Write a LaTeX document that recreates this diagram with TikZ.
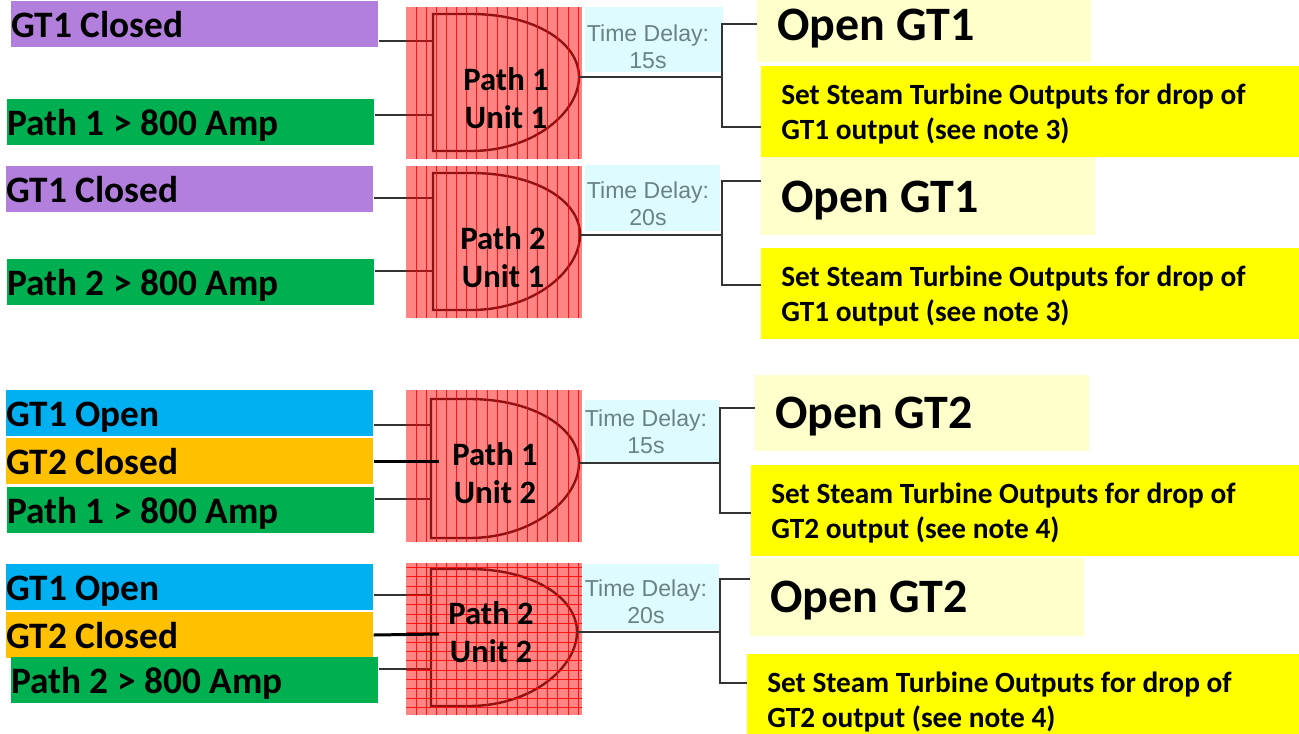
\documentclass[tikz,border=0pt]{standalone}
\usepackage{fontspec}
\setmainfont{Carlito}
\newfontfamily\delayfont{Liberation Sans}
\usetikzlibrary{positioning}
\definecolor{gatepurple}{RGB}{178,128,220}
\definecolor{gategreen}{RGB}{0,176,80}
\definecolor{gateblue}{RGB}{0,176,240}
\definecolor{gateorange}{RGB}{255,192,0}
\definecolor{paleyellow}{RGB}{255,255,204}
\definecolor{setyellow}{RGB}{255,255,0}
\definecolor{boxred}{RGB}{255,0,0}
\definecolor{delaycyan}{RGB}{222,252,255}
\definecolor{delaytext}{RGB}{105,130,130}
\tikzset{
  inputbox/.style={anchor=west, minimum height=34.5pt, text width=275.25pt, inner xsep=0pt, inner ysep=0pt, align=flush left,
    text height=19.5pt, text depth=0pt, font=\fontsize{28}{28}\bfseries\selectfont},
  openbox/.style 2 args={anchor=north west, fill=paleyellow, minimum height=#1*0.75pt, text width=220.5pt, inner xsep=15pt, inner ysep=0pt,
    align=flush left, text height=30pt, text depth=#2pt, font=\fontsize{36}{36}\bfseries\selectfont},
  setbox/.style={anchor=north west, fill=setyellow, minimum height=68.25pt, text width=#1*0.75pt, inner xsep=15pt, inner ysep=0pt,
    align=flush left, execute at begin node={\rule{0pt}{19pt}}, font=\fontsize{22}{26.5}\bfseries\selectfont},
  redbox/.style={anchor=north west, fill=boxred, fill opacity=0.48, minimum width=132pt, minimum height=114pt, inner sep=0pt},
  vstripes/.style={path picture={
    \foreach \s in {1,...,17}
      \draw[boxred, line width=0.6pt, draw opacity=0.85] ([xshift=\s*7.6pt-0.3pt]path picture bounding box.south west) -- ([xshift=\s*7.6pt-0.3pt]path picture bounding box.north west);}},
  gridstripes/.style={path picture={
    \foreach \s in {1,...,17}
      \draw[boxred, line width=0.6pt, draw opacity=0.85] ([xshift=\s*7.6pt-0.3pt]path picture bounding box.south west) -- ([xshift=\s*7.6pt-0.3pt]path picture bounding box.north west);
    \foreach \s in {1,...,16}
      \draw[boxred, line width=0.6pt, draw opacity=0.85] ([yshift=\s*7pt-1pt]path picture bounding box.south west) -- ([yshift=\s*7pt-1pt]path picture bounding box.south east);}},
  pathtext/.style={align=flush center, font=\fontsize{24.5}{29}\bfseries\selectfont},
  delaybox/.style={anchor=north west, fill=delaycyan, minimum width=#1*0.75pt, inner sep=0pt},
  delaylabel/.style={align=flush center, text=delaytext, inner sep=0pt, font=\delayfont\fontsize{17.3}{20.5}\selectfont},
  wire/.style={line width=1.6pt, black!80},
  gateline/.style={line width=1.8pt, black!85},
}
\begin{document}
\begin{tikzpicture}[x=0.75pt, y=-0.75pt]
  \useasboundingbox (0,0) rectangle (1299,733);
  \clip (0,0) rectangle (1299,733);
  % Input boxes
  \node[inputbox, fill=gatepurple] (closedA) at (11,24) {GT1 Closed};
  \node[inputbox, fill=gategreen] (ampA) at (7,122) {Path 1 > 800 Amp};
  \node[inputbox, fill=gatepurple] (closedB) at (6,189) {GT1 Closed};
  \node[inputbox, fill=gategreen] (ampB) at (7,282) {Path 2 > 800 Amp};
  \node[inputbox, fill=gateblue] (openC) at (6,413) {GT1 Open};
  \node[inputbox, fill=gateorange] (closedC) at (6,461) {GT2 Closed};
  \node[inputbox, fill=gategreen] (ampC) at (7,510) {Path 1 > 800 Amp};
  \node[inputbox, fill=gateblue] (openD) at (6,587) {GT1 Open};
  \node[inputbox, fill=gateorange] (closedD) at (6,635) {GT2 Closed};
  \node[inputbox, fill=gategreen] (ampD) at (11,680) {Path 2 > 800 Amp};
  % Gate corners and tips
  \coordinate (gateAa) at (433,41);
  \coordinate (gateAb) at (433,115);
  \coordinate (tipA) at (579,77);
  \coordinate (gateBa) at (433,198);
  \coordinate (gateBb) at (433,271);
  \coordinate (tipB) at (580,235);
  \coordinate (gateCa) at (431,425);
  \coordinate (gateCb) at (431,499);
  \coordinate (tipC) at (579,463);
  \coordinate (gateDa) at (431,595);
  \coordinate (gateDb) at (431,669);
  \coordinate (tipD) at (577,632);
  % Gate outlines, under the red
  \foreach \g/\t/\b/\tx/\ty/\lx in {A/14/151/579/77/433, B/173/310/580/235/433, C/399/538/579/463/431, D/569/706/577/632/431}
    \draw[gateline] (\lx,\t) -- (\lx+38,\t) .. controls (\tx-45,\t) and (\tx,\ty-35) .. (\tx,\ty)
      .. controls (\tx,\ty+35) and (\tx-45,\b) .. (\lx+38,\b) -- (\lx,\b) -- cycle;
  % Inputs
  \draw[wire] (closedA.east |- gateAa) -- (gateAa);
  \draw[wire] (ampA.east |- gateAb) -- (gateAb);
  \draw[wire] (closedB.east |- gateBa) -- (gateBa);
  \draw[wire] (ampB.east |- gateBb) -- (gateBb);
  \draw[wire] (openC.east |- gateCa) -- (gateCa);
  \draw[wire] (ampC.east |- gateCb) -- (gateCb);
  \draw[wire] (openD.east |- gateDa) -- (gateDa);
  \draw[wire] (ampD.east |- gateDb) -- (gateDb);
  % Red covers
  \node[redbox, vstripes] (coverA) at (406,7) {};
  \node[redbox, vstripes] (coverB) at (406,166) {};
  \node[redbox, vstripes] (coverC) at (406,390) {};
  \node[redbox, gridstripes] (coverD) at (406,563) {};
  \draw[line width=2.25pt] (closedC.east) -- (439,461);
  \draw[line width=2.25pt] (closedD.east) -- (439,634);
  \node[pathtext] (pathA) at (506,98) {Path 1\\Unit 1};
  \node[pathtext] (pathB) at (503,257) {Path 2\\Unit 1};
  \node[pathtext] (pathC) at (495,473) {Path 1\\Unit 2};
  \node[pathtext] (pathD) at (491,632) {Path 2\\Unit 2};
  % Time delays
  \node[delaybox=138, minimum height=48.75pt] (delayA) at (585,7) {};
  \node[delaybox=135, minimum height=49.5pt] (delayB) at (585,165) {};
  \node[delaybox=135, minimum height=47.25pt] (delayC) at (585,400) {};
  \node[delaybox=136, minimum height=49.5pt] (delayD) at (583,564) {};
  \node[delaylabel] (labelA) at (648,47) {Time Delay:\\15s};
  \node[delaylabel] (labelB) at (648,204) {Time Delay:\\20s};
  \node[delaylabel] (labelC) at (646,432) {Time Delay:\\15s};
  \node[delaylabel] (labelD) at (646,602) {Time Delay:\\20s};
  % Outputs
  \node[openbox={62}{16.5}] (outA) at (757,0) {Open GT1};
  \node[openbox={80}{4.5}] (outB) at (761,155) {Open GT1};
  \node[setbox=498] (steamA) at (761,66) {Set Steam Turbine Outputs for drop of\\GT1 output (see note 3)};
  \node[setbox=498] (steamB) at (761,248) {Set Steam Turbine Outputs for drop of\\GT1 output (see note 3)};
  \node[openbox={76}{7.5}] (outC) at (755,375) {Open GT2};
  \node[setbox=508] (steamC) at (751,465) {Set Steam Turbine Outputs for drop of\\GT2 output (see note 4)};
  \node[openbox={78}{7.5}] (outD) at (750,558) {Open GT2};
  \node[setbox=512] (steamD) at (747,654) {Set Steam Turbine Outputs for drop of\\GT2 output (see note 4)};
  % Branches
  \draw[wire] (tipA) -- (722,77);
  \draw[wire] (outA.west |- 0,24) -- (722,24) -- (722,127) -- (steamA.west |- 0,127);
  \draw[wire] (tipB) -- (722,235);
  \draw[wire] (outB.west |- 0,181) -- (722,181) -- (722,285) -- (steamB.west |- 0,285);
  \draw[wire] (tipC) -- (720,463);
  \draw[wire] (outC.west |- 0,408) -- (720,408) -- (720,513) -- (steamC.west |- 0,513);
  \draw[wire] (tipD) -- (720,632);
  \draw[wire] (outD.west |- 0,579) -- (720,579) -- (720,683) -- (steamD.west |- 0,683);
\end{tikzpicture}
\end{document}
